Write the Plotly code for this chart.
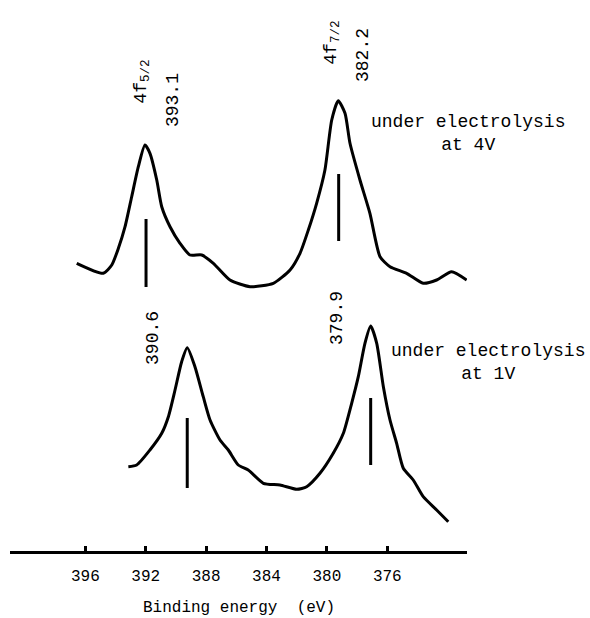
import plotly.graph_objects as go

# ---- data (binding energy in eV, intensity in arbitrary units) ----
e_4v = [396.57, 394.81, 394.25, 393.81, 393.37, 392.93, 392.49, 392.05, 391.72, 391.27,
        390.94, 390.39, 389.73, 389.07, 388.29, 387.52, 386.42, 385.09, 383.55, 382.44,
        381.78, 381.23, 380.68, 380.13, 379.68, 379.25, 378.80, 378.47, 377.81, 377.15,
        376.48, 375.82, 374.72, 373.62, 372.73, 371.74, 370.74]
i_4v = [287.7, 277.7, 286.0, 302.7, 324.3, 354.3, 384.3, 406.0, 397.7, 371.0,
        344.3, 324.3, 307.7, 296.0, 296.0, 287.7, 271.0, 264.3, 267.7, 281.0,
        297.7, 321.0, 347.7, 381.0, 431.0, 450.3, 437.7, 407.7, 371.0, 337.7,
        294.3, 284.3, 277.7, 267.7, 271.0, 279.3, 271.0]

e_1v = [393.15, 392.60, 391.72, 390.94, 390.50, 390.06, 389.62, 389.25, 388.74, 388.19,
        387.74, 387.08, 386.53, 385.87, 385.21, 384.21, 383.11, 382.00, 381.34, 380.46,
        379.58, 378.91, 378.36, 377.92, 377.48, 377.10, 376.70, 376.26, 375.82, 375.38,
        374.94, 374.28, 373.62, 372.73, 371.96]
i_1v = [84.3, 86.0, 101.0, 117.7, 134.3, 161.0, 189.3, 203.3, 184.3, 154.3,
        131.0, 111.0, 101.0, 86.0, 81.0, 67.7, 66.0, 61.7, 64.3, 77.7,
        97.7, 117.7, 147.7, 174.3, 207.7, 225.0, 207.7, 164.3, 131.0, 107.7,
        82.7, 71.0, 54.3, 41.0, 29.3]

# vertical peak markers
mark_e = [391.98, 379.22, 389.25, 377.10]
mark_lo = [264.0, 310.0, 63.0, 86.0]
mark_hi = [332.0, 377.0, 133.0, 153.0]

tick_vals = [396, 392, 388, 384, 380, 376]
tick_text = ["396", "392", "388", "384", "380", "376"]

# rotated peak labels: (text, energy, intensity)
peak_labels = ["4f<sub>5/2</sub>", "393.1", "4f<sub>7/2</sub>", "382.2", "390.6", "379.9"]
peak_label_e = [392.27, 390.19, 379.68, 377.61, 391.52, 379.33]
peak_label_i = [469.0, 451.0, 508.0, 496.0, 213.0, 233.0]

FONT = "Liberation Mono"
fig = go.Figure()

for xs, ys in [(e_4v, i_4v), (e_1v, i_1v)]:
    fig.add_trace(go.Scatter(x=xs, y=ys, mode="lines",
                             line=dict(color="black", width=3, shape="spline", smoothing=0.6),
                             showlegend=False, hoverinfo="skip"))

for e, lo, hi in zip(mark_e, mark_lo, mark_hi):
    fig.add_trace(go.Scatter(x=[e, e], y=[lo, hi], mode="lines",
                             line=dict(color="black", width=3),
                             showlegend=False, hoverinfo="skip"))

for t, e, v in zip(peak_labels, peak_label_e, peak_label_i):
    fig.add_annotation(x=e, y=v, xref="x", yref="y", text=t, showarrow=False,
                       textangle=-90, xanchor="center", yanchor="middle",
                       font=dict(family=FONT, size=18, color="black"))

fig.add_annotation(x=1.002, y=0.758, xref="paper", yref="paper",
                   text="under electrolysis<br>at 4V", showarrow=False,
                   xanchor="center", yanchor="middle", align="center",
                   font=dict(family=FONT, size=18, color="black"))
fig.add_annotation(x=1.045, y=0.343, xref="paper", yref="paper",
                   text="under electrolysis<br>at 1V", showarrow=False,
                   xanchor="center", yanchor="middle", align="center",
                   font=dict(family=FONT, size=18, color="black"))
fig.add_annotation(x=0.501, y=-0.1034, xref="paper", yref="paper",
                   text="Binding energy  (eV)", showarrow=False,
                   xanchor="center", yanchor="middle",
                   font=dict(family=FONT, size=16, color="black"))

fig.update_layout(
    width=590, height=618,
    margin=dict(l=10, r=123, t=0, b=67),
    paper_bgcolor="white", plot_bgcolor="white",
    xaxis=dict(range=[400.99, 370.72], tickvals=tick_vals, ticktext=tick_text,
               showline=True, linecolor="black", linewidth=3,
               ticks="inside", ticklen=5, tickwidth=3, tickcolor="black",
               showgrid=False, zeroline=False, ticklabelstandoff=8,
               tickfont=dict(family=FONT, size=16, color="black")),
    yaxis=dict(range=[0, 551], visible=False, showgrid=False, zeroline=False),
)

fig.write_html("out.html")
